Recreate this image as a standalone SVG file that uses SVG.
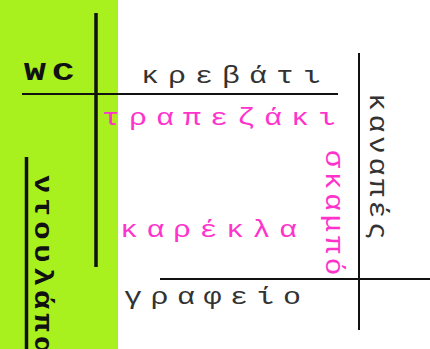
<svg xmlns="http://www.w3.org/2000/svg" width="430" height="349" viewBox="0 0 430 349">
<style>
.t{font-family:"Liberation Mono","DejaVu Sans Mono",monospace;font-size:24px;fill:#333}
.m{fill:#ff33cc}
.b{font-weight:bold;fill:#111;font-size:26px}
.v{font-size:26px}
.w{stroke:#111;fill:none}
</style>
<rect id="bg" x="0" y="0" width="430" height="349" fill="#ffffff"/>
<rect id="green" x="0" y="0" width="118" height="349" fill="#a8f01e"/>
<g id="walls">
<line class="w" x1="96" y1="13" x2="96" y2="267" stroke-width="3.5"/>
<line class="w" x1="22" y1="94" x2="338" y2="94" stroke-width="2"/>
<line class="w" x1="26.5" y1="157" x2="26.5" y2="349" stroke-width="3.5"/>
<line class="w" x1="359" y1="53" x2="359" y2="330" stroke-width="2"/>
<line class="w" x1="160" y1="279" x2="430" y2="279" stroke-width="2"/>
</g>
<g id="wc"><text class="t b" transform="translate(24,80) scale(1.4,1)" font-size="28" letter-spacing="4.5">WC</text></g>
<g id="krevati"><text class="t" transform="translate(141,83) scale(1.25,1)" letter-spacing="7.2">κρεβάτι</text></g>
<g id="trapezaki"><text class="t m" transform="translate(102,125) scale(1.25,1)" letter-spacing="7.2">τραπεζάκι</text></g>
<g id="karekla"><text class="t m" transform="translate(120,237) scale(1.25,1)" letter-spacing="6.8">καρέκλα</text></g>
<g id="grafeio"><text class="t" transform="translate(124,304) scale(1.25,1)" letter-spacing="6.8">γραφείο</text></g>
<g id="ntoulapa"><text class="t b" transform="translate(35,175) rotate(90) scale(1.2,1)" letter-spacing="3.6">ντουλάπα</text></g>
<g id="kanapes"><text class="t v" transform="translate(370,93) rotate(90) scale(1.15,1)" letter-spacing="3.1">καναπές</text></g>
<g id="skampo"><text class="t v m" transform="translate(326,150) rotate(90) scale(1.15,1)" letter-spacing="3.1">σκαμπό</text></g>
</svg>
